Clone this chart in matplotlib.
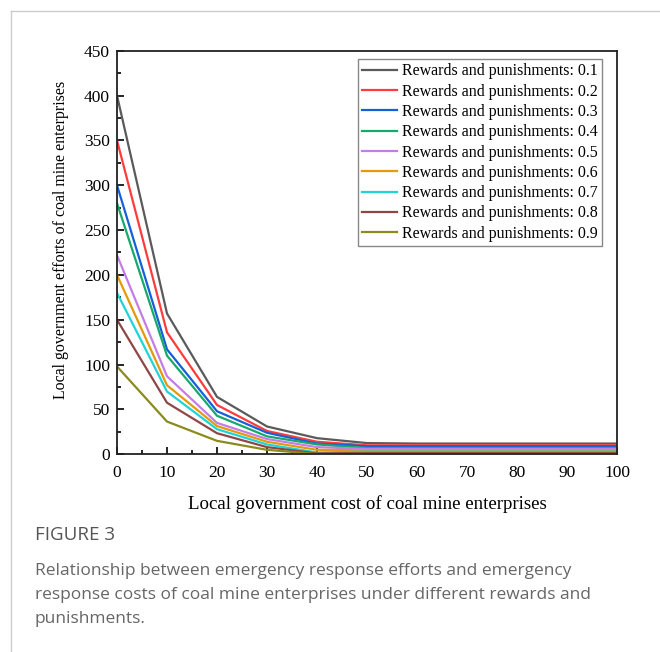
import matplotlib
matplotlib.use("Agg")
import matplotlib.pyplot as plt
from matplotlib.ticker import MultipleLocator
from matplotlib.lines import Line2D

cost = [0, 10, 20, 30, 40, 50, 60, 70, 80, 90, 100]
labels = ["Rewards and punishments: 0.%d" % i for i in range(1, 10)]
series = [
    [400, 157, 64, 31, 18, 12.5, 12, 12, 12, 12, 12],
    [350, 136, 55, 26, 14, 10, 10, 10, 10, 10, 10],
    [300, 117, 48, 24, 12, 9, 9, 9, 9, 9, 9],
    [280, 110, 43, 20, 11, 7, 7, 7, 7, 7, 7],
    [222, 87, 35, 17, 8, 6, 6, 6, 6, 6, 6],
    [200, 77, 31.5, 14, 5, 4.5, 4.5, 4.5, 4.5, 4.5, 4.5],
    [180, 70, 28, 11, 2, 3, 3, 3, 3, 3, 3],
    [150, 57.5, 23.5, 8, 1, 1.5, 1.5, 1.5, 1.5, 1.5, 1.5],
    [98, 36.5, 15, 5, 0.3, 0.5, 0.5, 0.5, 0.5, 0.5, 0.5],
]
colors = ["#5a5a5a", "#ff3b3b", "#1560d8", "#17a86c", "#c47de6",
          "#e39a0b", "#1fd3d6", "#8e4646", "#8b8b1d"]

fig = plt.figure(figsize=(6.6, 6.52), dpi=100)
ax = fig.add_axes([117 / 660, 1 - 454.3 / 652, 500 / 660, 403.6 / 652])

for vals, lab, c in zip(series, labels, colors):
    ax.plot(cost, vals, color=c, lw=1.6, label=lab)

serif = "Liberation Serif"
ax.set_xlim(0, 100)
ax.set_ylim(0, 450)
ax.xaxis.set_major_locator(MultipleLocator(10))
ax.xaxis.set_minor_locator(MultipleLocator(5))
ax.yaxis.set_major_locator(MultipleLocator(50))
ax.yaxis.set_minor_locator(MultipleLocator(25))
ax.tick_params(which="both", direction="in", top=False, right=False, width=1.2)
ax.tick_params(which="major", length=5, labelsize=12.5)
ax.tick_params(which="minor", length=3)
ax.tick_params(axis="x", which="major", pad=8)
ax.tick_params(axis="y", which="major", pad=5)
for lbl in ax.get_xticklabels() + ax.get_yticklabels():
    lbl.set_fontfamily(serif)
for s in ax.spines.values():
    s.set_linewidth(1.3)
    s.set_color("#222222")

ax.set_xlabel("Local government cost of coal mine enterprises", family=serif,
              fontsize=13.6, labelpad=10)
ax.set_ylabel("Local government efforts of coal mine enterprises", family=serif,
              fontsize=11.4)
ax.yaxis.set_label_coords(-48 / 500, (454.3 - 240) / 403.6)

leg = ax.legend(loc="upper right", bbox_to_anchor=((602 - 117) / 500, (454.3 - 59.3) / 403.6),
                prop={"family": serif, "size": 11.5},
                fancybox=False, edgecolor="#888888", framealpha=1, handlelength=2.25,
                borderpad=0.25, labelspacing=0.27, handletextpad=0.3, borderaxespad=0.0)
leg.get_frame().set_linewidth(1.0)

# page border lines
fig.add_artist(Line2D([11 / 660, 11 / 660], [0, 1 - 11 / 652], transform=fig.transFigure,
                      color="#cccccc", lw=1))
fig.add_artist(Line2D([11 / 660, 1], [1 - 11 / 652, 1 - 11 / 652], transform=fig.transFigure,
                      color="#cccccc", lw=1))

cap = "Open Sans"
fig.text(35 / 660, 1 - 535 / 652, "FIGURE 3", family=cap, fontsize=13.5, color="#555555",
         fontweight="medium", va="center", ha="left")
caption_lines = [
    "Relationship between emergency response efforts and emergency",
    "response costs of coal mine enterprises under different rewards and",
    "punishments.",
]
for i, line in enumerate(caption_lines):
    fig.text(35 / 660, 1 - (571 + 24 * i) / 652, line, family=cap, fontsize=12.5,
             color="#666666", va="center", ha="left")

fig.savefig("out.png", dpi=100)
